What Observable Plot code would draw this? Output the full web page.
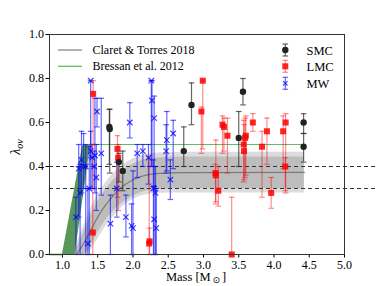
<!DOCTYPE html>
<html><head><meta charset="utf-8">
<script src="https://cdn.jsdelivr.net/npm/d3@7"></script>
<script src="https://cdn.jsdelivr.net/npm/@observablehq/plot@0.6"></script>
<style>
html,body{margin:0;padding:0;background:#fff;}
#chart svg{display:block;font-family:"Liberation Serif","DejaVu Serif",serif;}
</style></head>
<body><div id="chart"></div>
<script>
// ---- data ----
const smcMass = [1.665, 1.67, 1.80, 1.855, 2.72, 2.83, 3.50, 3.56, 4.42, 4.42];
const smcLam  = [0.58, 0.57, 0.42, 0.38, 0.47, 0.68, 0.53, 0.74, 0.60, 0.49];
const smcLo   = [0.41, 0.37, 0.33, 0.29, 0.40, 0.59, 0.40, 0.68, 0.55, 0.42];
const smcHi   = [0.66, 0.66, 0.46, 0.47, 0.58, 0.78, 0.65, 0.80, 0.64, 0.55];

const lmcMass = [1.435, 1.43, 1.78, 1.79, 2.23, 2.235, 2.97, 2.99, 3.17, 3.175, 3.21, 3.27, 3.29, 3.34, 3.40, 3.57, 3.575, 3.59, 3.60, 3.70, 3.83, 3.90, 3.96, 4.13, 4.165, 4.16];
const lmcLam  = [0.73, 0.10, 0.48, 0.44, 0.05, 0.06, 0.65, 0.79, 0.37, 0.36, 0.29, 0.59, 0.58, 0.54, 0.00, 0.50, 0.47, 0.53, 0.54, 0.60, 0.49, 0.56, 0.28, 0.56, 0.60, 0.40];
const lmcLo   = [0.50, 0.00, 0.26, 0.20, 0.00, 0.00, 0.46, 0.48, 0.23, 0.24, 0.22, 0.46, 0.47, 0.37, 0.00, 0.33, 0.34, 0.35, 0.36, 0.56, 0.26, 0.41, 0.21, 0.39, 0.28, 0.29];
const lmcHi   = [0.79, 0.50, 0.54, 0.50, 0.44, 0.12, 0.67, 0.79, 0.41, 0.52, 0.40, 0.63, 0.62, 0.62, 0.26, 0.61, 0.59, 0.62, 0.63, 0.64, 0.56, 0.62, 0.35, 0.63, 0.64, 0.44];

const mwMass = [1.19, 1.23, 1.25, 1.27, 1.30, 1.33, 1.36, 1.38, 1.40, 1.40, 1.42, 1.45, 1.46, 1.48, 1.49, 1.55, 1.68, 1.77, 1.90, 1.955, 1.98, 2.00, 2.06, 2.14, 2.22, 2.26, 2.27, 2.29, 2.30, 2.30, 2.32, 2.33, 2.47, 2.48, 2.53, 2.57];
const mwLam  = [0.17, 0.39, 0.28, 0.43, 0.40, 0.40, 0.05, 0.30, 0.79, 0.47, 0.44, 0.40, 0.45, 0.35, 0.65, 0.46, 0.14, 0.30, 0.17, 0.60, 0.13, 0.12, 0.46, 0.47, 0.44, 0.79, 0.70, 0.30, 0.62, 0.16, 0.28, 0.12, 0.47, 0.52, 0.34, 0.55];
const mwLo   = [0.00, 0.17, 0.00, 0.28, 0.30, 0.00, 0.00, 0.00, 0.44, 0.30, 0.30, 0.30, 0.28, 0.20, 0.58, 0.27, 0.00, 0.17, 0.08, 0.53, 0.00, 0.00, 0.35, 0.40, 0.32, 0.40, 0.40, 0.00, 0.31, 0.00, 0.00, 0.00, 0.37, 0.38, 0.25, 0.39];
const mwHi   = [0.26, 0.50, 0.41, 0.56, 0.55, 0.50, 0.30, 0.49, 0.79, 0.56, 0.50, 0.47, 0.71, 0.50, 0.71, 0.71, 0.27, 0.42, 0.27, 0.69, 0.23, 0.38, 0.50, 0.50, 0.50, 0.79, 0.79, 0.43, 0.72, 0.31, 0.40, 0.30, 0.59, 0.65, 0.43, 0.61];

// Claret & Torres 2018 relation
const ctMass  = [1.20, 1.30, 1.40, 1.50, 1.60, 1.70, 1.80, 1.90, 2.00, 2.10, 2.20, 2.40, 2.70, 4.43];
const ctMid   = [0.00, 0.05, 0.11, 0.17, 0.22, 0.26, 0.295, 0.32, 0.34, 0.353, 0.362, 0.369, 0.372, 0.373];
const ctInLo  = [0.00, 0.00, 0.04, 0.10, 0.15, 0.19, 0.22, 0.245, 0.265, 0.28, 0.29, 0.297, 0.30, 0.30];
const ctInHi  = [0.03, 0.10, 0.18, 0.24, 0.29, 0.33, 0.36, 0.39, 0.41, 0.425, 0.433, 0.44, 0.443, 0.443];
const ctOutLo = [0.00, 0.00, 0.02, 0.07, 0.12, 0.165, 0.20, 0.23, 0.25, 0.265, 0.273, 0.278, 0.28, 0.28];
const ctOutHi = [0.05, 0.13, 0.21, 0.27, 0.32, 0.36, 0.39, 0.415, 0.435, 0.447, 0.455, 0.462, 0.465, 0.465];

// Bressan et al. 2012 relation
const brRampLam  = [0.0, 0.5];
const brRampLeft = [1.00, 1.29];
const brRampRight= [1.18, 1.40];
const brFlatMass = [1.29, 4.43];
const brFlatLam  = [0.5, 0.5];
const brZeroMass = [0.816, 1.00];
const brZeroLam  = [0.0, 0.0];

const refLines = [0.3, 0.4];
const xTicks = [1.0, 1.5, 2.0, 2.5, 3.0, 3.5, 4.0, 4.5, 5.0];
const yTicks = [0.0, 0.2, 0.4, 0.6, 0.8, 1.0];

// ---- tables ----
const mk = (m, l, lo, hi) => m.map((x, i) => ({x, y: l[i], lo: lo[i], hi: hi[i]}));
const smc = mk(smcMass, smcLam, smcLo, smcHi);
const lmc = mk(lmcMass, lmcLam, lmcLo, lmcHi);
const mw  = mk(mwMass, mwLam, mwLo, mwHi);
const ct = ctMass.map((x, i) => ({x, mid: ctMid[i], inLo: ctInLo[i], inHi: ctInHi[i], outLo: ctOutLo[i], outHi: ctOutHi[i]}));
const brRamp = brRampLam.map((y, i) => ({y, x1: brRampLeft[i], x2: brRampRight[i]}));
const brFlat = brFlatMass.map((x, i) => ({x, y: brFlatLam[i]}));
const brZero = brZeroMass.map((x, i) => ({x, y: brZeroLam[i]}));

const cap = {draw(ctx) { ctx.moveTo(-2.8, 0); ctx.lineTo(2.8, 0); }};

function errMarks(data, color, op) {
  return [
    Plot.ruleX(data, {x: "x", y1: "lo", y2: "hi", stroke: color, strokeOpacity: op, strokeWidth: 1.2}),
    Plot.dot(data, {x: "x", y: "lo", symbol: cap, stroke: color, strokeOpacity: op, strokeWidth: 1.2, fill: "none", r: 3}),
    Plot.dot(data, {x: "x", y: "hi", symbol: cap, stroke: color, strokeOpacity: op, strokeWidth: 1.2, fill: "none", r: 3})
  ];
}

const W = 382, H = 286;
const chart = Plot.plot({
  width: W, height: H,
  marginLeft: 49, marginRight: 38, marginTop: 34, marginBottom: 32,
  style: {fontFamily: "'Liberation Serif','DejaVu Serif',serif", fontSize: "12px", color: "#000", background: "#fff"},
  x: {domain: [0.816, 5.0], ticks: xTicks, tickFormat: d3.format(".1f"), label: null, tickSize: 3.5, tickPadding: 2},
  y: {domain: [0, 1], ticks: yTicks, tickFormat: d3.format(".1f"), label: null, tickSize: 3.5, tickPadding: 2},
  marks: [
    Plot.areaY(ct, {x: "x", y1: "outLo", y2: "outHi", fill: "#dcdcdc", curve: "monotone-x"}),
    Plot.areaY(ct, {x: "x", y1: "inLo", y2: "inHi", fill: "#bdbdbd", curve: "monotone-x"}),
    Plot.line(ct, {x: "x", y: "mid", stroke: "#7a7a7a", strokeWidth: 1.2, curve: "monotone-x"}),
    Plot.areaX(brRamp, {y: "y", x1: "x1", x2: "x2", fill: "#2e7d2e", fillOpacity: 0.8}),
    Plot.line(brFlat, {x: "x", y: "y", stroke: "#66bb66", strokeWidth: 1.2}),
    Plot.line(brZero, {x: "x", y: "y", stroke: "#2e7d2e", strokeWidth: 1.5}),
    Plot.ruleY(refLines, {x1: 0.816, x2: 5.44, stroke: "#333", strokeWidth: 1.2, strokeDasharray: "4,3"}),
    ...errMarks(mw, "blue", 0.6),
    ...errMarks(lmc, "red", 0.45),
    ...errMarks(smc, "#333", 0.75),
    Plot.dot(mw, {x: "x", y: "y", symbol: "times", stroke: "blue", strokeOpacity: 0.75, strokeWidth: 1.2, r: 2.6}),
    Plot.dot(lmc, {x: "x", y: "y", symbol: "square", fill: "red", fillOpacity: 0.85, r: 3.4}),
    Plot.dot(smc, {x: "x", y: "y", fill: "#222", r: 3.2}),
    Plot.frame({stroke: "#333", strokeWidth: 1})
  ]
});
document.getElementById("chart").appendChild(chart);

// ---- legends & axis labels ----
const svg = d3.select(chart);
const font = "'Liberation Serif','DejaVu Serif',serif";
const lg = svg.append("g").attr("font-family", font).attr("font-size", 12).attr("fill", "#000").attr("text-anchor", "start");
[["Claret & Torres 2018", "#888", 50], ["Bressan et al. 2012", "#66bb66", 66.3]].forEach(([t, c, y]) => {
  lg.append("line").attr("x1", 58).attr("x2", 82).attr("y1", y).attr("y2", y).attr("stroke", c).attr("stroke-width", 1.3);
  lg.append("text").attr("x", 92.5).attr("y", y + 4).attr("text-anchor", "start").text(t);
});
const mx = 285.3;
[["SMC", "#333", 50], ["LMC", "red", 66.3], ["MW", "blue", 83.3]].forEach(([t, c, y], i) => {
  const op = i === 0 ? 0.75 : i === 1 ? 0.45 : 0.6;
  lg.append("line").attr("x1", mx).attr("x2", mx).attr("y1", y - 6).attr("y2", y + 6).attr("stroke", c).attr("stroke-opacity", op).attr("stroke-width", 1.2);
  [y - 6, y + 6].forEach(cy => lg.append("line").attr("x1", mx - 2.8).attr("x2", mx + 2.8).attr("y1", cy).attr("y2", cy).attr("stroke", c).attr("stroke-opacity", op).attr("stroke-width", 1.2));
  if (i === 0) lg.append("circle").attr("cx", mx).attr("cy", y).attr("r", 3.2).attr("fill", "#222");
  if (i === 1) lg.append("rect").attr("x", mx - 3).attr("y", y - 3).attr("width", 6).attr("height", 6).attr("fill", "red").attr("fill-opacity", 0.85);
  if (i === 2) lg.append("path").attr("d", `M${mx-2.2},${y-2.2}L${mx+2.2},${y+2.2}M${mx-2.2},${y+2.2}L${mx+2.2},${y-2.2}`).attr("stroke", "blue").attr("stroke-opacity", 0.75).attr("stroke-width", 1.2);
  lg.append("text").attr("x", 306.5).attr("y", y + 4.5).attr("font-size", 12.5).attr("text-anchor", "start").text(t);
});
// axis labels
const xl = svg.append("text").attr("x", 196).attr("y", 281).attr("text-anchor", "middle").attr("font-family", font).attr("font-size", 12.5).attr("fill", "#000");
xl.append("tspan").text("Mass [M");
xl.append("tspan").attr("font-size", 9).attr("dy", 2).attr("font-family", "'DejaVu Sans',sans-serif").text("\u2009\u2299\u2009");
xl.append("tspan").attr("dy", -2).text("]");
const yl = svg.append("text").attr("transform", "translate(20,147) rotate(-90)").attr("text-anchor", "middle").attr("font-family", font).attr("font-style", "italic").attr("font-size", 14).attr("fill", "#000");
yl.append("tspan").text("\u03bb");
yl.append("tspan").attr("font-size", 10).attr("dy", 3).text("ov");
</script></body></html>
